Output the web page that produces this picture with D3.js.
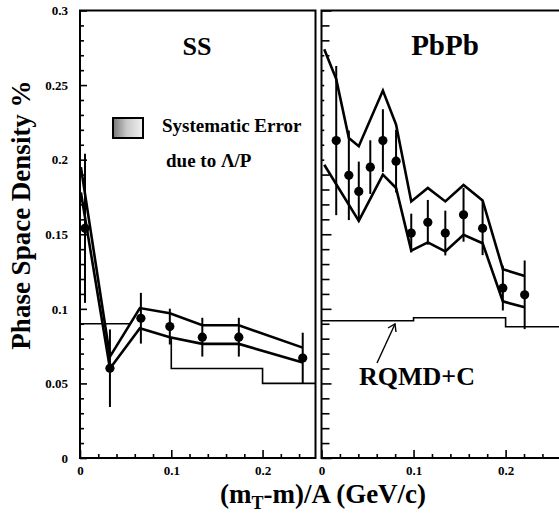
<!DOCTYPE html>
<html>
<head>
<meta charset="utf-8">
<script src="https://cdn.jsdelivr.net/npm/d3@7"></script>
<style>
  body { margin: 0; background: #fff; }
  text { font-family: "Liberation Serif", "DejaVu Serif", serif; font-weight: bold; fill: #000; }
</style>
</head>
<body>
<script>
// ---- data ----
var ssX   = [0.0055, 0.0328, 0.0667, 0.0984, 0.134, 0.174, 0.244];
var ssY   = [0.154, 0.0602, 0.0937, 0.0881, 0.081, 0.081, 0.067];
var ssErr = [0.05, 0.026, 0.017, 0.012, 0.013, 0.013, 0.017];

var ssHiX = [0.001, 0.0328, 0.0656, 0.0984, 0.134, 0.174, 0.244];
var ssHi  = [0.195, 0.068, 0.1005, 0.097, 0.089, 0.089, 0.074];
var ssLoX = [0.001, 0.0328, 0.0656, 0.0984, 0.134, 0.174, 0.244];
var ssLo  = [0.178, 0.060, 0.087, 0.081, 0.0765, 0.0765, 0.064];

var pbX   = [0.016, 0.0297, 0.0405, 0.053, 0.0667, 0.081, 0.0975, 0.1155, 0.1345, 0.1543, 0.175, 0.197, 0.2207];
var pbY   = [0.2128, 0.1895, 0.1787, 0.195, 0.2128, 0.199, 0.1508, 0.158, 0.1508, 0.163, 0.154, 0.1139, 0.1094];
var pbErr = [0.05, 0.03, 0.02, 0.018, 0.021, 0.021, 0.013, 0.015, 0.015, 0.018, 0.018, 0.015, 0.023];

var pbHiX = [0.003, 0.016, 0.0297, 0.0405, 0.0667, 0.081, 0.0975, 0.1155, 0.1345, 0.1543, 0.175, 0.197, 0.2207];
var pbHi  = [0.274, 0.254, 0.2145, 0.209, 0.2463, 0.2235, 0.172, 0.181, 0.172, 0.183, 0.1727, 0.1266, 0.122];
var pbLoX = [0.003, 0.0405, 0.0667, 0.081, 0.0975, 0.1155, 0.1345, 0.1543, 0.175, 0.197, 0.2207];
var pbLo  = [0.1966, 0.159, 0.190, 0.181, 0.139, 0.1445, 0.1385, 0.1497, 0.144, 0.105, 0.101];

// RQMD+C histogram: bin edges and values
var ssRqmdEdges = [0, 0.1, 0.2, 0.258];
var ssRqmd      = [0.09, 0.06, 0.05];
var pbRqmdEdges = [0, 0.1, 0.2, 0.262];
var pbRqmd      = [0.092, 0.094, 0.088];

var yTickLabels = [0, 0.05, 0.1, 0.15, 0.2, 0.25, 0.3];
var xTickLabels = [0, 0.1, 0.2];

var svg = d3.select("body").append("svg").attr("width", 559).attr("height", 519);

var y = d3.scaleLinear().domain([0, 0.3]).range([458, 10.5]);

function zip(xs, ys) {
    return xs.map(function (d, i) { return [d, ys[i]]; });
}

function drawPanel(opt) {
    var x = d3.scaleLinear().domain([0, 0.258]).range(opt.range);
    var g = svg.append("g");

    // minor + major ticks on the left axis, pointing inward
    var yMinor = d3.range(0, 0.3001, 0.01).filter(function (d) { return Math.round(d * 100) % 5 != 0; });
    g.append("g").attr("transform", "translate(" + opt.range[0] + ",0)")
        .call(d3.axisLeft(y).tickValues(yMinor).tickSize(-opt.yMinorLen).tickFormat(""));
    g.append("g").attr("transform", "translate(" + opt.range[0] + ",0)")
        .call(d3.axisLeft(y).tickValues(yTickLabels).tickSize(-opt.yMajorLen).tickPadding(12)
            .tickFormat(opt.yLabels ? d3.format("~g") : ""));

    var xMinor = d3.range(0.02, 0.258, 0.02).filter(function (d) { return Math.round(d * 100) % 10 != 0; });
    g.append("g").attr("transform", "translate(0,458)")
        .call(d3.axisBottom(x).tickValues(xMinor).tickSize(-4).tickFormat(""));
    g.append("g").attr("transform", "translate(0,458)")
        .call(d3.axisBottom(x).tickValues(xTickLabels).tickSize(-8).tickPadding(8).tickFormat(d3.format("~g")));

    g.selectAll(".domain").remove();
    g.selectAll(".tick line").attr("stroke", "#000").attr("stroke-width", 1.6);
    g.selectAll(".tick text").style("font-size", "13px").style("font-family", "Liberation Serif").style("font-weight", "bold");

    // RQMD+C step line
    var steps = zip(opt.rqmdEdges, opt.rqmd.concat([opt.rqmd[opt.rqmd.length - 1]]));
    g.append("path")
        .attr("d", d3.line().curve(d3.curveStepAfter).x(function (d) { return x(d[0]); }).y(function (d) { return y(d[1]); })(steps))
        .attr("fill", "none").attr("stroke", "#000").attr("stroke-width", 1.6);

    // systematic error band, opaque white inside
    var hi = zip(opt.hiX, opt.hi), lo = zip(opt.loX, opt.lo);
    var line = d3.line().x(function (d) { return x(d[0]); }).y(function (d) { return y(d[1]); });
    g.append("path").attr("d", line(hi.concat(lo.slice().reverse())) + "Z")
        .attr("fill", "#fff").attr("stroke", "none");
    [hi, lo].forEach(function (pts) {
        g.append("path").attr("d", line(pts))
            .attr("fill", "none").attr("stroke", "#000").attr("stroke-width", 2.6).attr("stroke-linejoin", "miter");
    });

    // data points with error bars
    var pts = opt.px.map(function (d, i) { return { x: d, y: opt.py[i], e: opt.pe[i] }; });
    g.selectAll(".err").data(pts).enter().append("line")
        .attr("x1", function (d) { return x(d.x); }).attr("x2", function (d) { return x(d.x); })
        .attr("y1", function (d) { return y(d.y + d.e); }).attr("y2", function (d) { return y(d.y - d.e); })
        .attr("stroke", "#000").attr("stroke-width", 2);
    g.selectAll(".pt").data(pts).enter().append("circle")
        .attr("cx", function (d) { return x(d.x); }).attr("cy", function (d) { return y(d.y); })
        .attr("r", 4.6).attr("fill", "#000");

    // frame (right panel runs off the page edge)
    g.append("rect").attr("x", opt.range[0]).attr("y", y(0.3))
        .attr("width", opt.frameRight - opt.range[0]).attr("height", y(0) - y(0.3))
        .attr("fill", "none").attr("stroke", "#000").attr("stroke-width", 2);

    g.append("text").attr("x", opt.titleX).attr("y", 55).attr("text-anchor", "middle")
        .style("font-size", opt.titleSize + "px").text(opt.title);
    return x;
}

drawPanel({
    range: [80, 315.5], frameRight: 315.5, yLabels: true, yMinorLen: 4, yMajorLen: 7,
    px: ssX, py: ssY, pe: ssErr, hiX: ssHiX, hi: ssHi, loX: ssLoX, lo: ssLo,
    rqmdEdges: ssRqmdEdges, rqmd: ssRqmd,
    title: "SS", titleX: 197, titleSize: 26
});

drawPanel({
    range: [321.5, 559], frameRight: 563, yLabels: false, yMinorLen: 8, yMajorLen: 10,
    px: pbX, py: pbY, pe: pbErr, hiX: pbHiX, hi: pbHi, loX: pbLoX, lo: pbLo,
    rqmdEdges: pbRqmdEdges, rqmd: pbRqmd,
    title: "PbPb", titleX: 445, titleSize: 29
});

// legend for the systematic error box
var grad = svg.append("defs").append("linearGradient").attr("id", "sysgrad");
grad.append("stop").attr("offset", "0%").attr("stop-color", "#777");
grad.append("stop").attr("offset", "45%").attr("stop-color", "#c8c8c8");
grad.append("stop").attr("offset", "100%").attr("stop-color", "#f2f2f2");
svg.append("rect").attr("x", 113).attr("y", 118).attr("width", 30).attr("height", 20)
    .attr("fill", "url(#sysgrad)").attr("stroke", "#000").attr("stroke-width", 2);
svg.append("text").attr("x", 162).attr("y", 132).style("font-size", "19px").text("Systematic Error");
svg.append("text").attr("x", 166).attr("y", 167).style("font-size", "19px").text("due to \u039B/P");

// RQMD+C label and arrow
svg.append("text").attr("x", 359).attr("y", 385).style("font-size", "26px").text("RQMD+C");
svg.append("line").attr("x1", 377).attr("y1", 363).attr("x2", 395).attr("y2", 324)
    .attr("stroke", "#000").attr("stroke-width", 1.4);
svg.append("path").attr("d", "M388,328 L395,324 L396,332")
    .attr("fill", "none").attr("stroke", "#000").attr("stroke-width", 1.4);

// axis titles
svg.append("text").attr("transform", "translate(30,215) rotate(-90)").attr("text-anchor", "middle")
    .style("font-size", "27px").text("Phase Space Density %");

var xt = svg.append("text").attr("x", 323).attr("y", 503).attr("text-anchor", "middle").style("font-size", "27px");
xt.append("tspan").text("(m");
xt.append("tspan").attr("dy", 6).style("font-size", "18px").text("T");
xt.append("tspan").attr("dy", -6).text("-m)/A (GeV/c)");
</script>
</body>
</html>
